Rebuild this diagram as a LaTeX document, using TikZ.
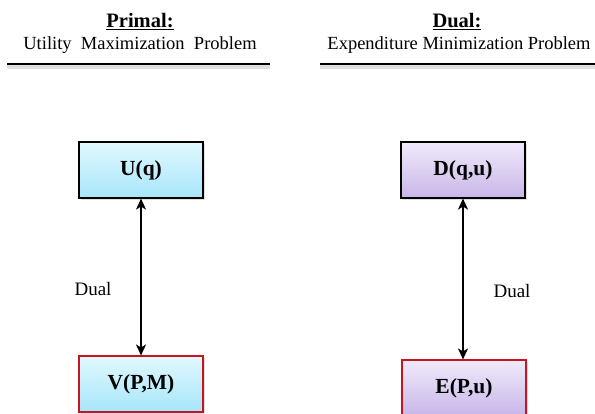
\documentclass[tikz,border=0pt]{standalone}
\usepackage{fontspec}
\setmainfont{Liberation Serif}
\usetikzlibrary{shadows,arrows.meta}
\definecolor{cyantop}{HTML}{E2F8FE}
\definecolor{cyanbot}{HTML}{A6E6FA}
\definecolor{lavtop}{HTML}{F0EAFB}
\definecolor{lavbot}{HTML}{C8B6E8}
\definecolor{redb}{HTML}{C8141E}
\tikzset{
  fnbox/.style={minimum width=124pt, minimum height=56pt, inner sep=0pt,
    font=\fontsize{21.5}{24}\selectfont\bfseries, line width=1.1pt,
    drop shadow={shadow xshift=1.5pt, shadow yshift=-2pt, opacity=0.25}},
  cyanbox/.style={fnbox, top color=cyantop, bottom color=cyanbot},
  lavbox/.style={fnbox, top color=lavtop, bottom color=lavbot},
  blackedge/.style={draw=black},
  rededge/.style={draw=redb},
  dualarrow/.style={{Stealth[length=11pt,width=10pt,inset=3pt]}-{Stealth[length=11pt,width=10pt,inset=3pt]}, line width=1.8pt},
  titletext/.style={font=\fontsize{18.5}{21}\selectfont},
  headtext/.style={font=\fontsize{20.5}{23}\selectfont\bfseries},
  lbl/.style={font=\fontsize{19}{21}\selectfont},
  rule/.style={line width=2.2pt, preaction={draw=black!12, line width=4pt, transform canvas={yshift=-2.5pt}}}
}
\begin{document}
\begin{tikzpicture}[x=1pt,y=-1pt]
\useasboundingbox (0,0) rectangle (595,413);
% headings
\node[headtext] (ph) at (140,22) {\underline{Primal:}};
\node[titletext] (pt) at (140,45) {Utility\ \ Maximization\ \ Problem};
\coordinate (pl1) at (7,64);
\coordinate (pl2) at (270,64);
\draw[rule] (pl1) -- (pl2);
\node[headtext] (dh) at (457,22) {\underline{Dual:}};
\node[titletext] (dt) at (459,45) {Expenditure Minimization Problem};
\coordinate (dl1) at (320,64);
\coordinate (dl2) at (597,64);
\draw[rule] (dl1) -- (dl2);
% boxes
\node[cyanbox, blackedge] (U) at (141,170) {U(q)};
\node[lavbox, blackedge] (D) at (463,170) {D(q,u)};
\node[cyanbox, rededge] (V) at (141,384) {V(P,M)};
\node[lavbox, rededge] (E) at (464,388) {E(P,u)};
% arrows
\draw[dualarrow] (U.south) -- (V.north);
\draw[dualarrow] (D.south) -- (D.south |- E.north);
\node[lbl] (l1) at (93,289) {Dual};
\node[lbl] (l2) at (512,291) {Dual};
\end{tikzpicture}
\end{document}
